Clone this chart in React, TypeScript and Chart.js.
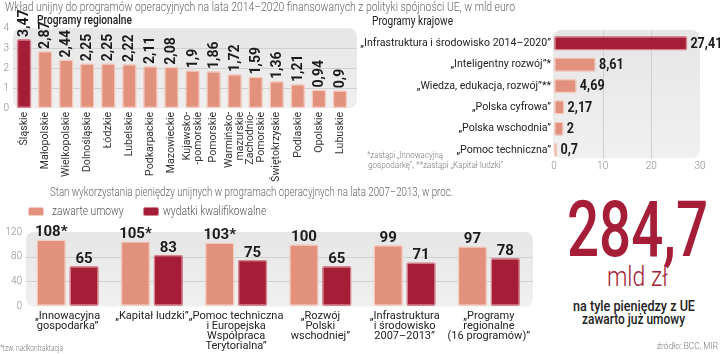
import React, { useEffect, useLayoutEffect, useRef } from "react";
import { Chart, registerables } from "chart.js";
Chart.register(...registerables);

// ---------- DATA ----------
const titleTop =
  "Wkład unijny do programów operacyjnych na lata 2014–2020 finansowanych z polityki spójności UE, w mld euro";
const regionalTitle = "Programy regionalne";
const nationalTitle = "Programy krajowe";

const regionNames: string[][] = [
  ["Śląskie"],
  ["Małopolskie"],
  ["Wielkopolskie"],
  ["Dolnośląskie"],
  ["Łódzkie"],
  ["Lubelskie"],
  ["Podkarpackie"],
  ["Mazowieckie"],
  ["Kujawsko-", "-pomorskie"],
  ["Pomorskie"],
  ["Warmińsko-", "mazurskie"],
  ["Zachodnio-", "Pomorskie"],
  ["Świętokrzyskie"],
  ["Podlaskie"],
  ["Opolskie"],
  ["Lubuskie"],
];
const regionValues = [3.47, 2.87, 2.44, 2.25, 2.25, 2.22, 2.11, 2.08, 1.9, 1.86, 1.72, 1.59, 1.36, 1.21, 0.94, 0.9];
const regionTickMax = 4;
const regionTickStep = 1;

const nationalNames = [
  "„Infrastruktura i środowisko 2014–2020”",
  "„Inteligentny rozwój”*",
  "„Wiedza, edukacja, rozwój”**",
  "„Polska cyfrowa”",
  "„Polska wschodnia”",
  "„Pomoc techniczna”",
];
const nationalValues = [27.41, 8.61, 4.69, 2.17, 2, 0.7];
const nationalTickMax = 30;
const nationalTickStep = 10;
const nationalNote1 = "*zastąpi „Innowacyjną";
const nationalNote2 = "gospodarkę”, **zastąpi „Kapitał ludzki”";

const usageTitle =
  "Stan wykorzystania pieniędzy unijnych w programach operacyjnych na lata 2007–2013, w proc.";
const seriesNames = ["zawarte umowy", "wydatki kwalifikowalne"];
const usageCategories: string[][] = [
  ["„Innowacyjna", "gospodarka”"],
  ["„Kapitał ludzki”"],
  ["„Pomoc techniczna", "i Europejska", "Współpraca", "Terytorialna”"],
  ["„Rozwój", "Polski", "wschodniej”"],
  ["„Infrastruktura", "i środowisko", "2007–2013”"],
  ["„Programy", "regionalne", "(16 programów)”"],
];
const contractValues = [108, 105, 103, 100, 99, 97];
const contractMarks = ["*", "*", "*", "", "", ""];
const expenditureValues = [65, 83, 75, 65, 71, 78];
const usageTickMax = 120;
const usageTickStep = 40;
const usageNote = "*tzw. nadkontraktacja";

const bigNumber = "284,7";
const bigUnit = "mld zł";
const bigLine1 = "na tyle pieniędzy z UE";
const bigLine2 = "zawarto już umowy";
const sourceText = "źródło: BCC, MIR";

// ---------- STYLE ----------
const FONT = "Roboto, 'Noto Sans', 'DejaVu Sans', sans-serif";
const RED = "#a51d37";
const RED_B = "#d7848f";
const SALMON = "#e2917c";
const SALMON_B = "#f3cbbf";
const TICK = "#8a8a8a";
const DARK = "#222222";

const fmt = (v: number) => String(v).replace(".", ",");

function makePanel(inset: { l: number; r: number; t: number; b: number }, axis: string, values: number[]) {
  return {
    id: "panel",
    beforeDraw(chart: any) {
      const { ctx, chartArea: ca } = chart;
      const l = ca.left + inset.l,
        r = ca.right + inset.r,
        t = ca.top + inset.t,
        b = ca.bottom + inset.b;
      ctx.save();
      const g = ctx.createLinearGradient(0, t, 0, b);
      g.addColorStop(0, "#e6e6e6");
      g.addColorStop(1, "#f0f0f0");
      ctx.fillStyle = g;
      ctx.beginPath();
      ctx.roundRect(l, t, r - l, b - t, 8);
      ctx.fill();
      ctx.strokeStyle = "#d0d0d0";
      ctx.lineWidth = 1;
      const sc = chart.scales[axis];
      values.forEach((v) => {
        const p = Math.round(sc.getPixelForValue(v)) + 0.5;
        ctx.beginPath();
        if (axis === "y") {
          ctx.moveTo(l, p);
          ctx.lineTo(r, p);
        } else {
          ctx.moveTo(p, t);
          ctx.lineTo(p, b);
        }
        ctx.stroke();
      });
      ctx.restore();
    },
  };
}

function makeValues(mode: string, texts: string[][], size: number, squeeze: number) {
  return {
    id: "vals",
    afterDatasetsDraw(chart: any) {
      const { ctx } = chart;
      ctx.save();
      ctx.fillStyle = "#1b1b1b";
      ctx.font = `700 ${size}px ${FONT}`;
      chart.data.datasets.forEach((_ds: any, di: number) => {
        const meta = chart.getDatasetMeta(di);
        meta.data.forEach((el: any, i: number) => {
          const text = texts[di][i];
          const { x, y } = el.getProps(["x", "y"], true);
          ctx.save();
          if (mode === "rot") {
            ctx.translate(x + 0.5, y - 2);
            ctx.rotate(-Math.PI / 2);
            ctx.scale(squeeze, 1);
            ctx.textAlign = "left";
            ctx.textBaseline = "middle";
            ctx.fillText(text, 0, 0);
          } else if (mode === "hor") {
            ctx.translate(x + 3, y + 0.5);
            ctx.scale(squeeze, 1);
            ctx.textAlign = "left";
            ctx.textBaseline = "middle";
            ctx.fillText(text, 0, 0);
          } else {
            ctx.translate(x, y - 3);
            ctx.scale(squeeze, 1);
            ctx.textAlign = "center";
            ctx.textBaseline = "alphabetic";
            ctx.fillText(text, 0, 0);
          }
          ctx.restore();
        });
      });
      ctx.restore();
    },
  };
}

function makeRotCats(names: string[][], size: number, lineH: number, pad: number) {
  return {
    id: "rotcats",
    afterDraw(chart: any) {
      const { ctx, chartArea } = chart;
      const xs = chart.scales.x;
      ctx.save();
      ctx.font = `400 ${size}px ${FONT}`;
      ctx.fillStyle = "#333";
      ctx.textAlign = "right";
      ctx.textBaseline = "middle";
      names.forEach((lines, i) => {
        const px = xs.getPixelForValue(i);
        const n = lines.length;
        lines.forEach((line, j) => {
          const off = (j - (n - 1) / 2) * lineH;
          ctx.save();
          ctx.translate(px + off, chartArea.bottom + pad);
          ctx.rotate(-Math.PI / 2);
          ctx.fillText(line, 0, 0);
          ctx.restore();
        });
      });
      ctx.restore();
    },
  };
}

const noGrid = { display: false, drawTicks: false };
const noBorder = { display: false };
const tickFont = { family: FONT, size: 10, weight: 300 as any };

function useChart(make: () => any) {
  const ref = useRef<HTMLCanvasElement>(null);
  useEffect(() => {
    if (!ref.current) return;
    const c = new Chart(ref.current, make());
    return () => c.destroy();
  }, []);
  return ref;
}

function RegionalChart() {
  const ref = useChart(() => ({
    type: "bar",
    data: {
      labels: regionNames.map((l) => l.join(" ")),
      datasets: [
        {
          data: regionValues,
          backgroundColor: regionValues.map((_, i) => (i === 0 ? RED : SALMON)),
          borderColor: regionValues.map((_, i) => (i === 0 ? RED_B : SALMON_B)),
          borderWidth: 1.5,
          borderRadius: 2,
          borderSkipped: false,
          barPercentage: 0.7,
          categoryPercentage: 1,
        },
      ],
    },
    options: {
      animation: false,
      responsive: false,
      devicePixelRatio: 1,
      layout: { padding: { top: 28.3, right: 9.5, left: 0, bottom: 0 } },
      plugins: { legend: { display: false }, tooltip: { enabled: false } },
      scales: {
        x: {
          grid: noGrid,
          border: noBorder,
          ticks: { display: false },
          afterFit: (s: any) => {
            s.height = 91.7;
          },
        },
        y: {
          min: 0,
          max: regionTickMax,
          ticks: { stepSize: regionTickStep, padding: 4.5, color: TICK, font: tickFont },
          grid: noGrid,
          border: noBorder,
          afterFit: (s: any) => {
            s.width = 13.5;
          },
        },
      },
    },
    plugins: [
      makePanel({ l: -0.5, r: 6.5, t: 0, b: 0 }, "y", [1, 2, 3]),
      makeValues("rot", [regionValues.map(fmt)], 14, 1),
      makeRotCats(regionNames, 10.6, 11, 3.5),
    ],
  }));
  return <canvas ref={ref} width={360} height={200} style={{ position: "absolute", left: 0, top: 0, width: 360, height: 200 }} />;
}

function NationalChart() {
  const ref = useChart(() => ({
    type: "bar",
    data: {
      labels: nationalNames,
      datasets: [
        {
          data: nationalValues,
          backgroundColor: nationalValues.map((_, i) => (i === 0 ? RED : SALMON)),
          borderColor: nationalValues.map((_, i) => (i === 0 ? RED_B : SALMON_B)),
          borderWidth: 1.5,
          borderRadius: 2,
          borderSkipped: false,
          barPercentage: 0.68,
          categoryPercentage: 1,
        },
      ],
    },
    options: {
      indexAxis: "y",
      animation: false,
      responsive: false,
      devicePixelRatio: 1,
      layout: { padding: { top: 32.6, right: 20, left: 0, bottom: 0 } },
      plugins: { legend: { display: false }, tooltip: { enabled: false } },
      scales: {
        x: {
          min: 0,
          max: nationalTickMax,
          ticks: { stepSize: nationalTickStep, padding: 0, color: TICK, font: tickFont },
          grid: noGrid,
          border: noBorder,
          afterFit: (s: any) => {
            s.height = 19.3;
          },
        },
        y: {
          ticks: { color: DARK, padding: 3, autoSkip: false, font: { family: FONT, size: 10.6 } },
          grid: noGrid,
          border: noBorder,
          afterFit: (s: any) => {
            s.width = 224;
          },
        },
      },
    },
    plugins: [
      makePanel({ l: -1, r: 0, t: -2.6, b: -2.5 }, "x", [10, 20]),
      makeValues("hor", [nationalValues.map(fmt)], 15, 0.84),
    ],
  }));
  return <canvas ref={ref} width={390} height={180} style={{ position: "absolute", left: 330, top: 0, width: 390, height: 180 }} />;
}

function UsageChart() {
  const ref = useChart(() => ({
    type: "bar",
    data: {
      labels: usageCategories,
      datasets: [
        {
          label: seriesNames[0],
          data: contractValues,
          backgroundColor: SALMON,
          borderColor: SALMON_B,
          borderWidth: 1.5,
          borderRadius: 2,
          borderSkipped: false,
          barPercentage: 0.9,
          categoryPercentage: 0.78,
        },
        {
          label: seriesNames[1],
          data: expenditureValues,
          backgroundColor: RED,
          borderColor: RED_B,
          borderWidth: 1.5,
          borderRadius: 2,
          borderSkipped: false,
          barPercentage: 0.9,
          categoryPercentage: 0.78,
        },
      ],
    },
    options: {
      animation: false,
      responsive: false,
      devicePixelRatio: 1,
      layout: { padding: { top: 32, right: 9, left: 0, bottom: 0 } },
      plugins: { legend: { display: false }, tooltip: { enabled: false } },
      scales: {
        x: {
          grid: noGrid,
          border: noBorder,
          ticks: {
            color: DARK,
            padding: 5.7,
            maxRotation: 0,
            minRotation: 0,
            autoSkip: false,
            font: { family: FONT, size: 11, lineHeight: 10 / 11 },
          },
          afterFit: (s: any) => {
            s.height = 48;
          },
        },
        y: {
          min: 0,
          max: usageTickMax,
          ticks: { stepSize: usageTickStep, padding: 3.5, color: TICK, font: tickFont },
          grid: noGrid,
          border: noBorder,
          afterFit: (s: any) => {
            s.width = 25.5;
          },
        },
      },
    },
    plugins: [
      makePanel({ l: 0.5, r: 2, t: 0, b: 0.5 }, "y", [40, 80]),
      makeValues(
        "top",
        [contractValues.map((v, i) => fmt(v) + contractMarks[i]), expenditureValues.map(fmt)],
        15,
        1
      ),
    ],
  }));
  return <canvas ref={ref} width={540} height={154} style={{ position: "absolute", left: 0, top: 200, width: 540, height: 154 }} />;
}

function FitText(props: { x: number; y: number; w: number; size: number; weight?: number; color?: string; children: any }) {
  const { x, y, w, size, weight = 400, color = DARK, children } = props;
  const ref = useRef<HTMLSpanElement>(null);
  useLayoutEffect(() => {
    const measure = () => {
      const el = ref.current;
      if (!el) return;
      el.style.transform = "none";
      const nat = el.getBoundingClientRect().width;
      if (nat > 0) el.style.transform = `scaleX(${w / nat})`;
    };
    measure();
    (document as any).fonts?.ready?.then(measure);
  });
  return (
    <span
      ref={ref}
      style={{
        position: "absolute",
        left: x,
        top: y - size / 2,
        fontSize: size,
        lineHeight: `${size}px`,
        fontWeight: weight,
        color,
        whiteSpace: "nowrap",
        transformOrigin: "0 0",
        fontFamily: FONT,
      }}
    >
      {children}
    </span>
  );
}

function Swatch({ x, color, border }: { x: number; color: string; border: string }) {
  return (
    <div
      style={{
        position: "absolute",
        left: x,
        top: 206.5,
        width: 16,
        height: 9,
        background: color,
        boxSizing: "border-box",
        border: `1px solid ${border}`,
        borderRadius: 2,
      }}
    />
  );
}

export default function App() {
  return (
    <div
      style={{
        position: "absolute",
        left: 0,
        top: 0,
        width: 720,
        height: 354,
        background: "#fff",
        overflow: "hidden",
        fontFamily: FONT,
      }}
    >
      <RegionalChart />
      <NationalChart />
      <UsageChart />

      <FitText x={5} y={6.8} w={510} size={13} weight={300} color="#666">{titleTop}</FitText>
      <FitText x={37} y={20.5} w={95} size={12.5} weight={500} color={DARK}>{regionalTitle}</FitText>
      <FitText x={372} y={20.8} w={81} size={12.5} weight={400} color={DARK}>{nationalTitle}</FitText>
      <FitText x={367} y={155} w={76} size={9} weight={300} color="#777">{nationalNote1}</FitText>
      <FitText x={368} y={165} w={135} size={9} weight={300} color="#777">{nationalNote2}</FitText>

      <FitText x={50} y={191.5} w={403} size={13} weight={300} color="#666">{usageTitle}</FitText>
      <Swatch x={28} color={SALMON} border={SALMON_B} />
      <FitText x={51.7} y={210.7} w={71.6} size={12} weight={300} color="#555">{seriesNames[0]}</FitText>
      <Swatch x={143} color={RED} border={RED_B} />
      <FitText x={163.3} y={210.7} w={103.3} size={12} weight={300} color="#555">{seriesNames[1]}</FitText>
      <FitText x={0} y={348} w={63} size={9} weight={300} color="#777">{usageNote}</FitText>

      <FitText x={567} y={230.5} w={141} size={77} weight={500} color={RED}>{bigNumber}</FitText>
      <FitText x={607} y={277} w={61} size={27} weight={300} color={RED}>{bigUnit}</FitText>
      <FitText x={573} y={305.5} w={122} size={14} weight={500} color={DARK}>{bigLine1}</FitText>
      <FitText x={582} y={319} w={103} size={14} weight={500} color={DARK}>{bigLine2}</FitText>
      <FitText x={657} y={346.7} w={61} size={9} weight={300} color="#777">{sourceText}</FitText>
    </div>
  );
}
